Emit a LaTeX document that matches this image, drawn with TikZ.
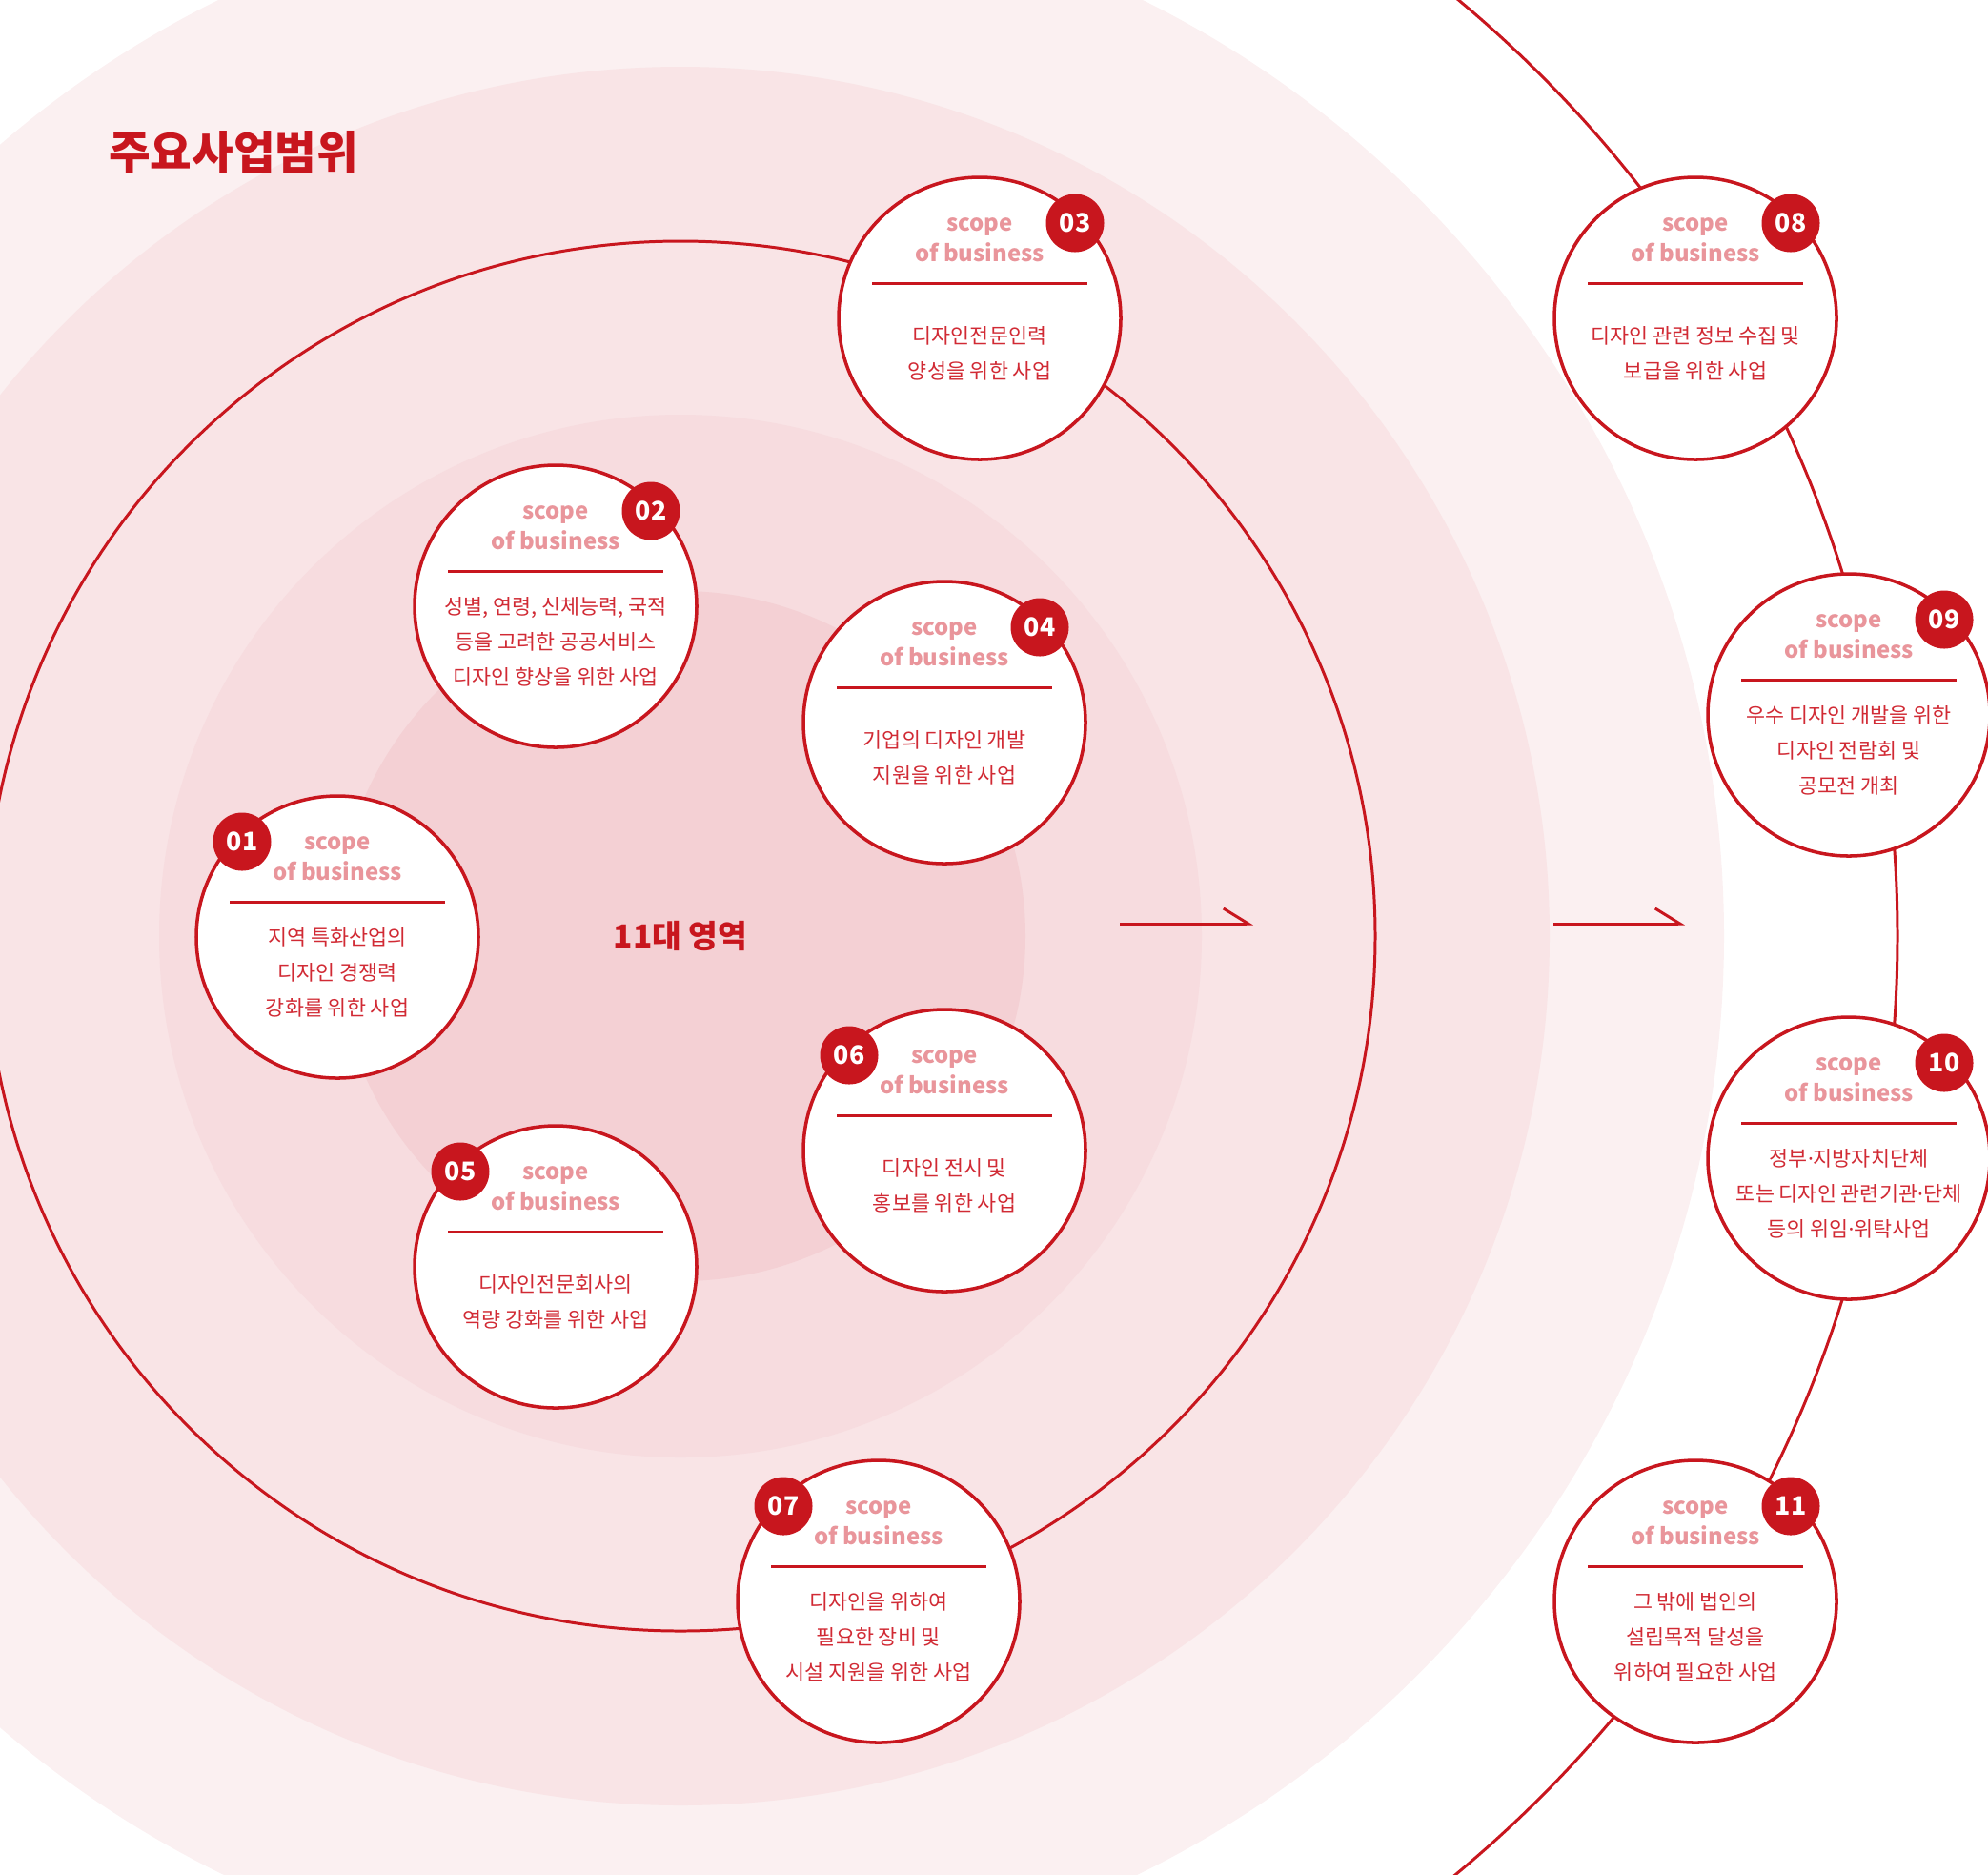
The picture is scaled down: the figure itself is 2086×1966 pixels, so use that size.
\documentclass[tikz,border=0pt]{standalone}
\usepackage{fontspec}
\setmainfont{Noto Sans CJK KR}
\newfontfamily\latinfont{Noto Sans}
\newcommand{\mdot}{{\latinfont ·}}
\usetikzlibrary{arrows.meta,positioning}

\definecolor{kred}{HTML}{C8161E}
\definecolor{kpink}{HTML}{E9959B}
\definecolor{ktext}{HTML}{D12A34}
\definecolor{ring1}{HTML}{FBF0F1}
\definecolor{ring2}{HTML}{F9E4E6}
\definecolor{ring3}{HTML}{F7DCDF}
\definecolor{ring4}{HTML}{F4D0D4}

\begin{document}
\begin{tikzpicture}
  [x=0.1mm,y=-0.1mm,
  item/.style={circle,draw=kred,fill=white,line width=1pt,minimum size=29.6mm,inner sep=0pt},
  num/.style={circle,fill=kred,text=white,minimum size=6.1mm,inner sep=0pt,font=\bfseries\fontsize{7.6}{8}\selectfont},
  heading/.style={align=center,text=kpink,inner sep=0pt,font=\bfseries\fontsize{6.8}{9.1}\selectfont},
  desc/.style={align=center,text=ktext,inner sep=0pt,font=\fontsize{6.2}{10.5}\selectfont},
  rule/.style={draw=kred,line width=0.85pt},
  orbit/.style={draw=kred,line width=0.85pt},
  flow/.style={draw=kred,line width=0.85pt,-{Straight Barb[left,length=2.6mm,width=3.2mm]}}]

\useasboundingbox (0,0) rectangle (2086,1966);

% background rings
\begin{scope}
\clip (0,0) rectangle (2086,1966);
\coordinate (core-c) at (714,982);
\fill[ring1] (core-c) circle (109.5mm);
\fill[ring2] (core-c) circle (91.2mm);
\fill[ring3] (core-c) circle (54.7mm);
\fill[ring4] (core-c) circle (36.2mm);
\draw[orbit] (core-c) circle (72.9mm);
\draw[orbit] (core-c) circle (127.7mm);
\end{scope}

% arrows
\coordinate (in-s) at (1175,969);
\coordinate (in-e) at (1315,969);
\coordinate (out-s) at (1630,969);
\coordinate (out-e) at (1768,969);
\draw[flow] (in-s) -- (in-e);
\draw[flow] (out-s) -- (out-e);

% titles
\node[text=kred,font=\bfseries\fontsize{13.5}{14}\selectfont] (title) at (245,160) {주요사업범위};
\node[text=kred,font=\bfseries\fontsize{9.5}{10}\selectfont] (core) at (714,982) {11대 영역};

% inner areas
\node[item] (c01) at (354,983) {};
\node[heading,yshift=8.2mm] (h01) at (c01) {scope\\of business};
\node[desc,yshift=-3.7mm] (t01) at (c01) {지역 특화산업의\\디자인 경쟁력\\강화를 위한 사업};
\node[num,xshift=-10mm,yshift=10mm] (b01) at (c01) {01};

\node[item] (c02) at (583,636) {};
\node[heading,yshift=8.2mm] (h02) at (c02) {scope\\of business};
\node[desc,yshift=-3.7mm] (t02) at (c02) {성별, 연령, 신체능력, 국적\\등을 고려한 공공서비스\\디자인 향상을 위한 사업};
\node[num,xshift=10mm,yshift=10mm] (b02) at (c02) {02};

\node[item] (c03) at (1028,334) {};
\node[heading,yshift=8.2mm] (h03) at (c03) {scope\\of business};
\node[desc,yshift=-3.7mm] (t03) at (c03) {디자인전문인력\\양성을 위한 사업};
\node[num,xshift=10mm,yshift=10mm] (b03) at (c03) {03};

\node[item] (c04) at (991,758) {};
\node[heading,yshift=8.2mm] (h04) at (c04) {scope\\of business};
\node[desc,yshift=-3.7mm] (t04) at (c04) {기업의 디자인 개발\\지원을 위한 사업};
\node[num,xshift=10mm,yshift=10mm] (b04) at (c04) {04};

\node[item] (c05) at (583,1329) {};
\node[heading,yshift=8.2mm] (h05) at (c05) {scope\\of business};
\node[desc,yshift=-3.7mm] (t05) at (c05) {디자인전문회사의\\역량 강화를 위한 사업};
\node[num,xshift=-10mm,yshift=10mm] (b05) at (c05) {05};

\node[item] (c06) at (991,1207) {};
\node[heading,yshift=8.2mm] (h06) at (c06) {scope\\of business};
\node[desc,yshift=-3.7mm] (t06) at (c06) {디자인 전시 및\\홍보를 위한 사업};
\node[num,xshift=-10mm,yshift=10mm] (b06) at (c06) {06};

\node[item] (c07) at (922,1680) {};
\node[heading,yshift=8.2mm] (h07) at (c07) {scope\\of business};
\node[desc,yshift=-3.7mm] (t07) at (c07) {디자인을 위하여\\필요한 장비 및\\시설 지원을 위한 사업};
\node[num,xshift=-10mm,yshift=10mm] (b07) at (c07) {07};

% outer areas
\node[item] (c08) at (1779,334) {};
\node[heading,yshift=8.2mm] (h08) at (c08) {scope\\of business};
\node[desc,yshift=-3.7mm] (t08) at (c08) {디자인 관련 정보 수집 및\\보급을 위한 사업};
\node[num,xshift=10mm,yshift=10mm] (b08) at (c08) {08};

\node[item] (c09) at (1940,750) {};
\node[heading,yshift=8.2mm] (h09) at (c09) {scope\\of business};
\node[desc,yshift=-3.7mm] (t09) at (c09) {우수 디자인 개발을 위한\\디자인 전람회 및\\공모전 개최};
\node[num,xshift=10mm,yshift=10mm] (b09) at (c09) {09};

\node[item] (c10) at (1940,1215) {};
\node[heading,yshift=8.2mm] (h10) at (c10) {scope\\of business};
\node[desc,yshift=-3.7mm] (t10) at (c10) {정부\mdot 지방자치단체\\또는 디자인 관련기관\mdot 단체\\등의 위임\mdot 위탁사업};
\node[num,xshift=10mm,yshift=10mm] (b10) at (c10) {10};

\node[item] (c11) at (1779,1680) {};
\node[heading,yshift=8.2mm] (h11) at (c11) {scope\\of business};
\node[desc,yshift=-3.7mm] (t11) at (c11) {그 밖에 법인의\\설립목적 달성을\\위하여 필요한 사업};
\node[num,xshift=10mm,yshift=10mm] (b11) at (c11) {11};

% rules under the headings
\draw[rule] ([xshift=-11.3mm,yshift=3.7mm]c01.center) -- ([xshift=11.3mm,yshift=3.7mm]c01.center);
\draw[rule] ([xshift=-11.3mm,yshift=3.7mm]c02.center) -- ([xshift=11.3mm,yshift=3.7mm]c02.center);
\draw[rule] ([xshift=-11.3mm,yshift=3.7mm]c03.center) -- ([xshift=11.3mm,yshift=3.7mm]c03.center);
\draw[rule] ([xshift=-11.3mm,yshift=3.7mm]c04.center) -- ([xshift=11.3mm,yshift=3.7mm]c04.center);
\draw[rule] ([xshift=-11.3mm,yshift=3.7mm]c05.center) -- ([xshift=11.3mm,yshift=3.7mm]c05.center);
\draw[rule] ([xshift=-11.3mm,yshift=3.7mm]c06.center) -- ([xshift=11.3mm,yshift=3.7mm]c06.center);
\draw[rule] ([xshift=-11.3mm,yshift=3.7mm]c07.center) -- ([xshift=11.3mm,yshift=3.7mm]c07.center);
\draw[rule] ([xshift=-11.3mm,yshift=3.7mm]c08.center) -- ([xshift=11.3mm,yshift=3.7mm]c08.center);
\draw[rule] ([xshift=-11.3mm,yshift=3.7mm]c09.center) -- ([xshift=11.3mm,yshift=3.7mm]c09.center);
\draw[rule] ([xshift=-11.3mm,yshift=3.7mm]c10.center) -- ([xshift=11.3mm,yshift=3.7mm]c10.center);
\draw[rule] ([xshift=-11.3mm,yshift=3.7mm]c11.center) -- ([xshift=11.3mm,yshift=3.7mm]c11.center);

\end{tikzpicture}
\end{document}
